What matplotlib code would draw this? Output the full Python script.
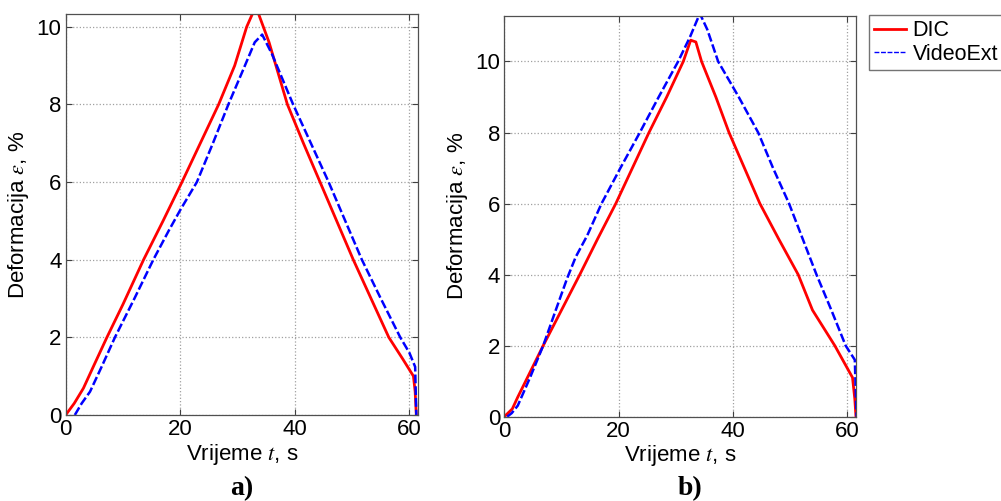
import matplotlib.pyplot as plt

plt.rcParams['font.family'] = ['Liberation Sans', 'DejaVu Sans']
plt.rcParams['mathtext.fontset'] = 'stix'

# panel a) - DIC
t_dic_a = [0, 1.5, 3.1, 5.0, 7.2, 10.0, 13.6, 17.0, 20.3, 23.5, 26.7, 29.5, 31.6, 32.8, 33.5,
           35.5, 38.7, 41.5, 44.4, 47.3, 50.2, 53.3, 56.4, 58.8, 60.7, 61.0, 61.2]
e_dic_a = [0, 0.3, 0.69, 1.3, 2.0, 2.85, 4.0, 5.0, 6.0, 7.0, 8.0, 9.0, 10.0, 10.4, 10.4,
           9.6, 8.0, 7.0, 6.0, 5.0, 4.0, 3.0, 2.0, 1.45, 1.0, 0.6, 0.0]
# panel a) - VideoExt
t_vid_a = [1.6, 2.8, 4.25, 6.3, 8.6, 12.0, 15.3, 18.0, 20.0, 22.9, 25.7, 28.4, 31.0, 33.0, 34.3,
           36.0, 39.7, 42.8, 45.9, 48.8, 51.7, 55.0, 58.4, 60.0, 61.0, 61.1, 61.2]
e_vid_a = [0, 0.3, 0.6, 1.25, 2.0, 3.0, 4.0, 4.75, 5.28, 6.0, 7.0, 8.0, 8.9, 9.6, 9.8,
           9.3, 8.0, 7.0, 6.0, 5.0, 4.0, 3.0, 2.0, 1.6, 1.24, 0.6, 0.0]

# panel b) - DIC
t_dic_b = [0, 1.4, 2.35, 4.5, 6.8, 10.0, 13.2, 16.3, 19.5, 22.4, 25.3, 28.4, 31.3, 32.6, 33.5,
           34.5, 37.0, 39.3, 42.0, 44.7, 48.0, 51.4, 53.9, 57.8, 60.9, 61.3, 61.5]
e_dic_b = [0, 0.22, 0.55, 1.25, 2.0, 3.0, 4.0, 5.0, 6.0, 7.0, 8.0, 9.0, 10.0, 10.6, 10.55,
           10.0, 9.0, 8.0, 7.0, 6.0, 5.0, 4.0, 3.0, 2.0, 1.1, 0.5, 0.0]
# panel b) - VideoExt
t_vid_b = [0.5, 1.3, 2.35, 4.5, 6.8, 9.0, 11.0, 12.5, 14.5, 17.0, 20.3, 23.7, 27.0, 30.4, 32.5, 34.2,
           35.5, 37.4, 41.0, 44.4, 47.0, 49.8, 52.2, 54.6, 57.2, 59.7, 61.3, 61.6]
e_vid_b = [0, 0.1, 0.31, 1.1, 2.0, 3.0, 3.9, 4.5, 5.1, 6.0, 7.0, 8.0, 9.0, 10.0, 10.7, 11.35,
           10.9, 10.0, 9.0, 8.0, 7.0, 6.0, 5.0, 4.0, 3.0, 2.0, 1.6, 0.0]

xticks = [0, 20, 40, 60]
yticks = [0, 2, 4, 6, 8, 10]

fig = plt.figure(figsize=(10.01, 5.01), dpi=100)
ax_a = fig.add_axes([0.0656, 0.1717, 0.3520, 0.8004])
ax_b = fig.add_axes([0.5038, 0.1683, 0.3513, 0.8004])

panels = [(ax_a, t_dic_a, e_dic_a, t_vid_a, e_vid_a, 10.33),
          (ax_b, t_dic_b, e_dic_b, t_vid_b, e_vid_b, 11.29)]

for ax, td, ed, tv, ev, ytop in panels:
    ax.plot(td, ed, color='#ff0000', lw=2, label='DIC')
    ax.plot(tv, ev, color='#0000ff', lw=1.8, ls=(0, (3.5, 1.2)), label='VideoExt')
    ax.set_xlim(0, 61.5)
    ax.set_ylim(0, ytop)
    ax.set_xticks(xticks)
    ax.set_yticks(yticks)
    ax.grid(True, ls=':', color='#a0a0a0', lw=0.9)
    ax.tick_params(direction='in', top=True, right=True, labelsize=16, length=4,
                   color='#404040', pad=3)
    for s in ax.spines.values():
        s.set_color('#505050')
        s.set_linewidth(0.9)
    ax.set_xlabel('Vrijeme $t$, s', fontsize=16, labelpad=1)
    ax.set_ylabel(r'Deformacija $\varepsilon$, %', fontsize=16, labelpad=4)

fig.text(0.2418, 0.012, 'a)', fontsize=20, fontweight='bold', family='Liberation Serif',
         ha='center')
fig.text(0.689, 0.012, 'b)', fontsize=20, fontweight='bold', family='Liberation Serif',
         ha='center')

leg = ax_b.legend(loc='upper left', bbox_to_anchor=(868.5 / 1001, 1 - 15 / 501),
                  bbox_transform=fig.transFigure, fontsize=15.5, frameon=True,
                  fancybox=False, handlelength=1.5, handletextpad=0.3,
                  borderpad=0.25, labelspacing=0.1, borderaxespad=0)
leg.get_frame().set_edgecolor('#505050')
leg.get_frame().set_linewidth(1.0)
leg.get_lines()[1].set_linewidth(1.0)

fig.savefig('out.png', dpi=100)
